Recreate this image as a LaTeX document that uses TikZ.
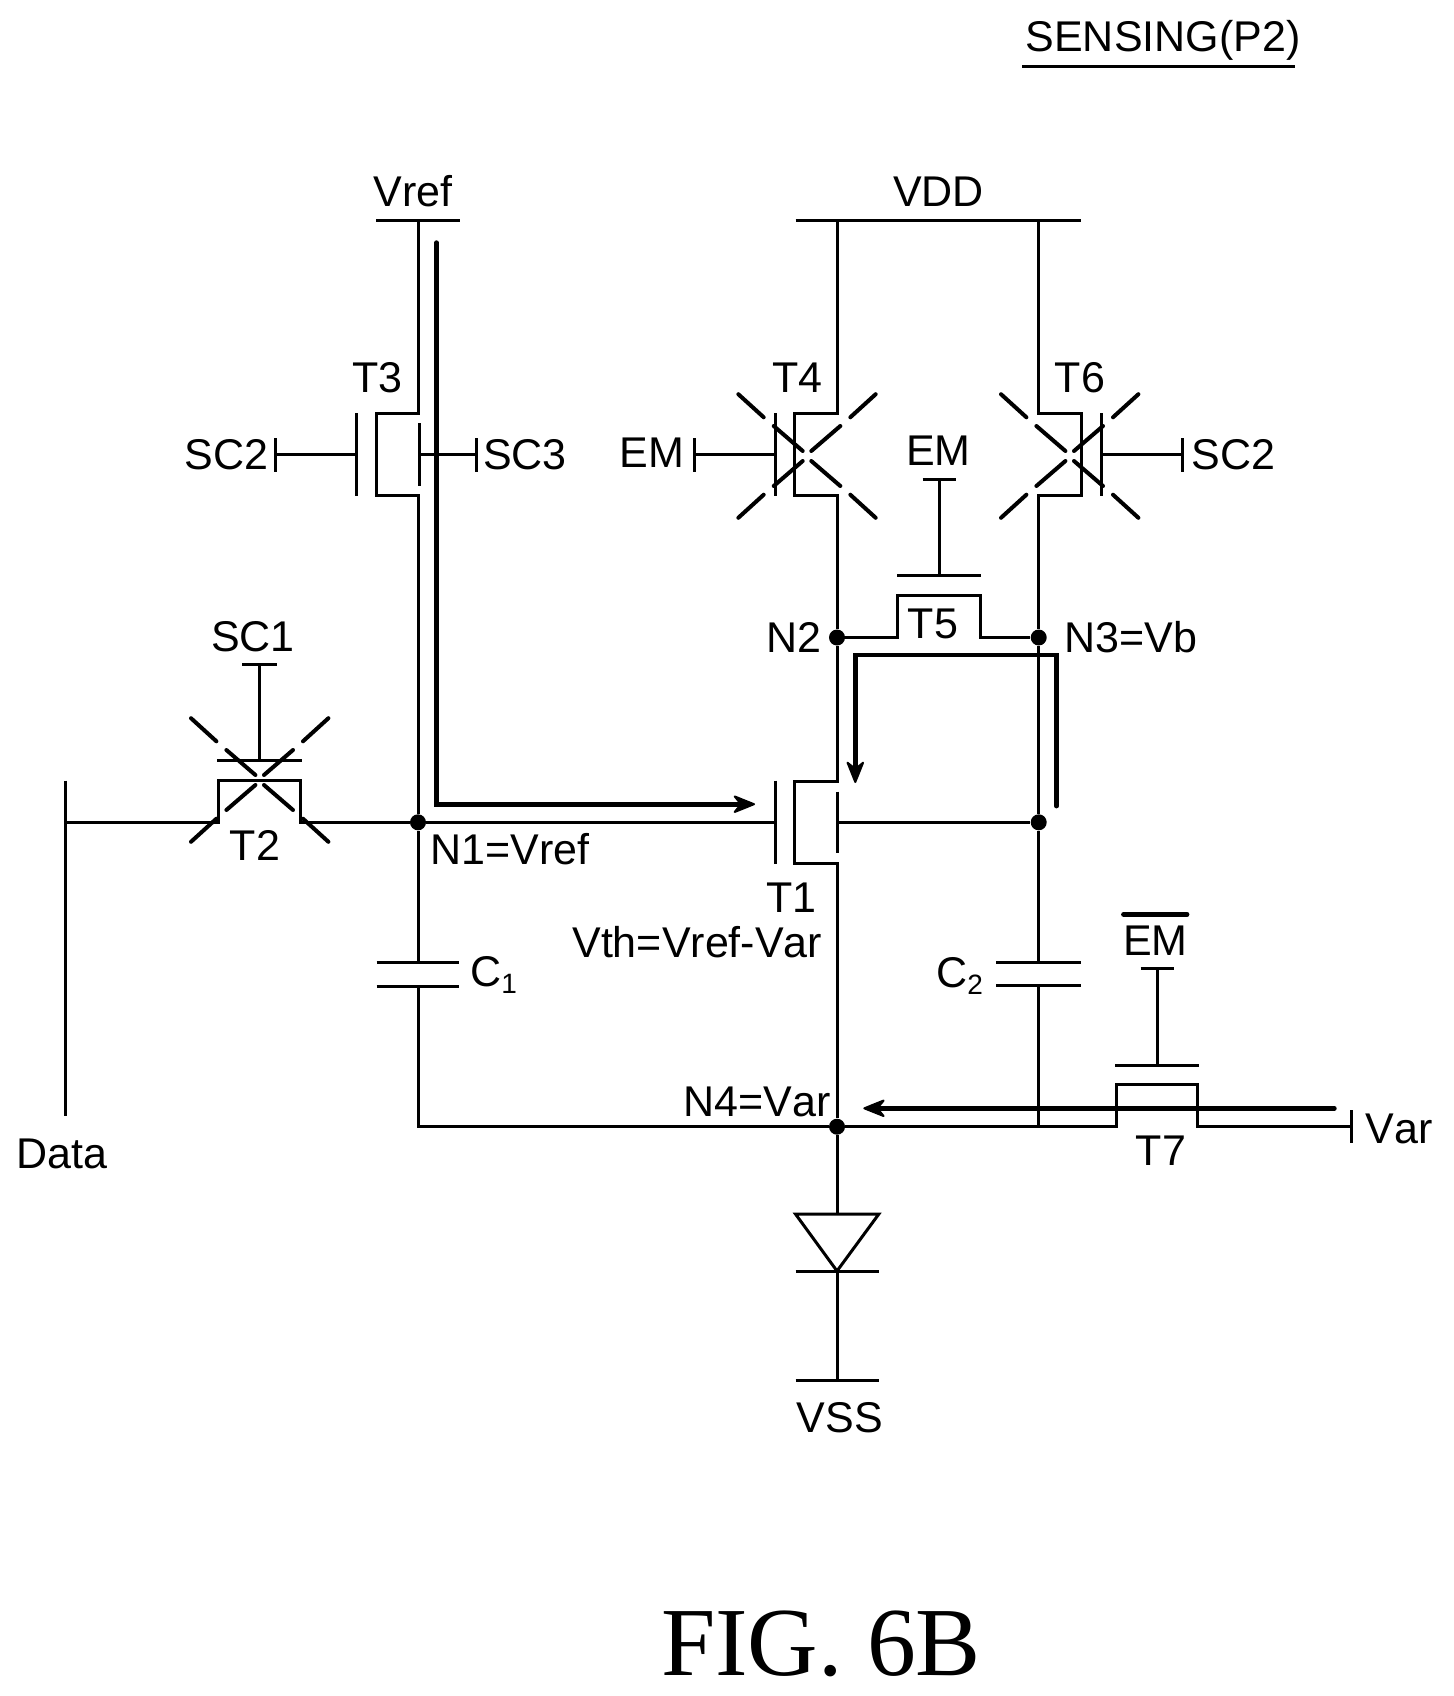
\documentclass[tikz,border=0pt]{standalone}
\usepackage{fontspec}
\setmainfont[Kerning=Off]{Liberation Sans}
\newfontfamily\figfont{Liberation Serif}
\usetikzlibrary{arrows.meta}
\tikzset{
  wire/.style={line width=1.5pt,line join=miter},
  thickpath/.style={line width=2.4pt,line cap=round},
  flow/.style={thickpath,-{Stealth[round,length=12.5pt,width=10pt,inset=4pt,line width=1pt]}},
  xmark/.style={line width=2pt,line cap=round},
  lbl/.style={inner sep=0pt,anchor=base,font=\fontsize{21.5}{24}\selectfont},
  lblw/.style={lbl,anchor=base west},
  lble/.style={lbl,anchor=base east},
  dot/.style={circle,fill=black,inner sep=0pt,minimum size=8pt},
}
\newcommand{\offmark}[2]{%
  \foreach \sx in {-1,1}{\foreach \sy in {-1,1}{%
    \draw[xmark] (#1+\sx*4.3,#2+\sy*5) -- (#1+\sx*33.3,#2+\sy*30);
    \draw[xmark] (#1+\sx*43.3,#2+\sy*38.7) -- (#1+\sx*68.7,#2+\sy*61.8);
  }}}
\newcommand{\subs}[1]{\raisebox{-3.6pt}{\fontsize{14}{15}\selectfont #1}}
\begin{document}
\begin{tikzpicture}[x=0.5pt,y=-0.5pt]
\useasboundingbox (0,0) rectangle (1453,1696);
% junctions
\node[dot] (n1) at (418,822.3) {};
\node[dot] (n2) at (837,637.5) {};
\node[dot] (n3) at (1038.7,637.5) {};
\node[dot] (n5) at (1038.7,822.3) {};
\node[dot] (n4) at (837,1126.7) {};
% rails
\coordinate (vrefL) at (376,220.7); \coordinate (vrefR) at (460,220.7); \coordinate (vrefT) at (418,220.7);
\coordinate (vddL) at (795.7,220.7); \coordinate (vddR) at (1080.7,220.7);
\coordinate (vddA) at (837,220.7); \coordinate (vddB) at (1038.7,220.7);
\draw[wire] (vrefL) -- (vrefR);
\draw[wire] (vddL) -- (vddR);
% T3
\coordinate (t3a) at (418,413.3); \coordinate (t3b) at (376,413.3); \coordinate (t3c) at (376,495.3); \coordinate (t3d) at (418,495.3);
\draw[wire] (vrefT) -- (t3a) -- (t3b) -- (t3c) -- (t3d) -- (n1);
\coordinate (t3gT) at (356.7,413.3); \coordinate (t3gB) at (356.7,496); \coordinate (t3g) at (356.7,454.7);
\draw[wire] (t3gT) -- (t3gB);
\coordinate (t3sT) at (419,423.3); \coordinate (t3sB) at (419,486); \coordinate (t3s) at (419,454.7);
\draw[wire] (t3sT) -- (t3sB);
\coordinate (sc2a) at (275.7,454.7); \coordinate (sc2aT) at (275.7,438); \coordinate (sc2aB) at (275.7,471.7);
\draw[wire] (sc2aT) -- (sc2aB);
\draw[wire] (sc2a) -- (t3g);
\coordinate (sc3a) at (476.7,454.7); \coordinate (sc3aT) at (476.7,438); \coordinate (sc3aB) at (476.7,471.7);
\draw[wire] (sc3aT) -- (sc3aB);
\draw[wire] (t3s) -- (sc3a);
% T4
\coordinate (t4a) at (837,413.3); \coordinate (t4b) at (794.3,413.3); \coordinate (t4c) at (794.3,495.3); \coordinate (t4d) at (837,495.3);
\draw[wire] (vddA) -- (t4a) -- (t4b) -- (t4c) -- (t4d) -- (n2);
\coordinate (t4gT) at (775.7,413.3); \coordinate (t4gB) at (775.7,496); \coordinate (t4g) at (775.7,454.7);
\draw[wire] (t4gT) -- (t4gB);
\coordinate (ema) at (694.3,454.7); \coordinate (emaT) at (694.3,438); \coordinate (emaB) at (694.3,471.7);
\draw[wire] (emaT) -- (emaB);
\draw[wire] (ema) -- (t4g);
\offmark{807}{456}
% T6
\coordinate (t6a) at (1038.7,413.3); \coordinate (t6b) at (1081.7,413.3); \coordinate (t6c) at (1081.7,495.3); \coordinate (t6d) at (1038.7,495.3);
\draw[wire] (vddB) -- (t6a) -- (t6b) -- (t6c) -- (t6d) -- (n3);
\coordinate (t6gT) at (1101,413.3); \coordinate (t6gB) at (1101,496); \coordinate (t6g) at (1101,454.7);
\draw[wire] (t6gT) -- (t6gB);
\coordinate (sc2b) at (1182.3,454.7); \coordinate (sc2bT) at (1182.3,438); \coordinate (sc2bB) at (1182.3,471.7);
\draw[wire] (sc2bT) -- (sc2bB);
\draw[wire] (t6g) -- (sc2b);
\offmark{1069.7}{456}
% T5
\coordinate (t5a) at (897.3,637.5); \coordinate (t5b) at (897.3,595.3); \coordinate (t5c) at (980,595.3); \coordinate (t5d) at (980,637.5);
\draw[wire] (n2) -- (t5a) -- (t5b) -- (t5c) -- (t5d) -- (n3);
\coordinate (t5gL) at (897.3,575.7); \coordinate (t5gR) at (981,575.7); \coordinate (t5g) at (939,575.7);
\draw[wire] (t5gL) -- (t5gR);
\coordinate (t5tL) at (922.7,479.3); \coordinate (t5tR) at (955.7,479.3); \coordinate (t5t) at (939,479.3);
\draw[wire] (t5tL) -- (t5tR);
\draw[wire] (t5t) -- (t5g);
% T1
\coordinate (t1a) at (837,781); \coordinate (t1b) at (794.3,781); \coordinate (t1c) at (794.3,863.7); \coordinate (t1d) at (837,863.7);
\draw[wire] (n2) -- (t1a) -- (t1b) -- (t1c) -- (t1d) -- (n4);
\coordinate (t1gT) at (775.7,780.7); \coordinate (t1gB) at (775.7,864.3); \coordinate (t1g) at (775.7,822.3);
\draw[wire] (t1gT) -- (t1gB);
\draw[wire] (n1) -- (t1g);
\coordinate (t1sT) at (837.7,791.7); \coordinate (t1sB) at (837.7,853.3); \coordinate (t1s) at (837.7,822.3);
\draw[wire] (t1sT) -- (t1sB);
\draw[wire] (t1s) -- (n5);
\draw[wire] (n3) -- (n5);
% T2 and data line
\coordinate (dataT) at (65,780.7); \coordinate (dataB) at (65,1116); \coordinate (dataJ) at (65,822.3);
\draw[wire] (dataT) -- (dataB);
\coordinate (t2a) at (218.3,822.3); \coordinate (t2b) at (218.3,780.3); \coordinate (t2c) at (300.3,780.3); \coordinate (t2d) at (300.3,822.3);
\draw[wire] (dataJ) -- (t2a) -- (t2b) -- (t2c) -- (t2d) -- (n1);
\coordinate (t2gL) at (217.3,760.7); \coordinate (t2gR) at (301.7,760.7); \coordinate (t2g) at (259.7,760.7);
\draw[wire] (t2gL) -- (t2gR);
\coordinate (t2tL) at (242.3,664.7); \coordinate (t2tR) at (276.7,664.7); \coordinate (t2t) at (259.7,664.7);
\draw[wire] (t2tL) -- (t2tR);
\draw[wire] (t2t) -- (t2g);
\offmark{259.7}{780}
% C1
\coordinate (c1aL) at (376.7,962); \coordinate (c1aR) at (459.3,962); \coordinate (c1a) at (418,962);
\coordinate (c1bL) at (376.7,986); \coordinate (c1bR) at (459.3,986); \coordinate (c1b) at (418,986);
\coordinate (c1e) at (418,1126.7);
\draw[wire] (n1) -- (c1a);
\draw[wire] (c1aL) -- (c1aR);
\draw[wire] (c1bL) -- (c1bR);
\draw[wire] (c1b) -- (c1e) -- (n4);
% C2
\coordinate (c2aL) at (996.3,962); \coordinate (c2aR) at (1080.7,962); \coordinate (c2a) at (1038.7,962);
\coordinate (c2bL) at (996.3,985.7); \coordinate (c2bR) at (1080.7,985.7); \coordinate (c2b) at (1038.7,985.7);
\coordinate (c2e) at (1038.7,1126.7);
\draw[wire] (n5) -- (c2a);
\draw[wire] (c2aL) -- (c2aR);
\draw[wire] (c2bL) -- (c2bR);
\draw[wire] (c2b) -- (c2e);
% T7
\coordinate (t7a) at (1116,1126.7); \coordinate (t7b) at (1116,1084.3); \coordinate (t7c) at (1197.7,1084.3); \coordinate (t7d) at (1197.7,1126.7);
\coordinate (varJ) at (1351.3,1126.7); \coordinate (varT) at (1351.3,1110); \coordinate (varB) at (1351.3,1143.3);
\draw[wire] (n4) -- (t7a) -- (t7b) -- (t7c) -- (t7d) -- (varJ);
\draw[wire] (varT) -- (varB);
\coordinate (t7gL) at (1115.3,1065.3); \coordinate (t7gR) at (1199,1065.3); \coordinate (t7g) at (1157,1065.3);
\draw[wire] (t7gL) -- (t7gR);
\coordinate (t7tL) at (1140.7,968.7); \coordinate (t7tR) at (1174,968.7); \coordinate (t7t) at (1157,968.7);
\draw[wire] (t7tL) -- (t7tR);
\draw[wire] (t7t) -- (t7g);
\coordinate (ovL) at (1123.5,914.3); \coordinate (ovR) at (1187,914.3);
\draw[line width=2.4pt,line cap=round] (ovL) -- (ovR);
% diode and VSS
\coordinate (dTop) at (837,1214.2); \coordinate (dL) at (795.6,1214.2); \coordinate (dR) at (878.7,1214.2); \coordinate (dTip) at (837,1271);
\coordinate (dBL) at (795.6,1271); \coordinate (dBR) at (878.7,1271);
\coordinate (vssC) at (837,1380.5); \coordinate (vssL) at (795.6,1380.5); \coordinate (vssR) at (878.7,1380.5);
\draw[wire] (n4) -- (dTop);
\draw[wire] (dL) -- (dR) -- (dTip) -- cycle;
\draw[wire] (dBL) -- (dBR);
\draw[wire] (dTip) -- (vssC);
\draw[wire] (vssL) -- (vssR);
% current paths
\coordinate (p1a) at (436.5,242.7); \coordinate (p1b) at (436.5,804.2); \coordinate (p1c) at (755,804.2);
\draw[flow] (p1a) -- (p1b) -- (p1c);
\coordinate (p2a) at (1056.3,806); \coordinate (p2b) at (1056.3,655); \coordinate (p2c) at (855.3,655); \coordinate (p2d) at (855.3,783);
\draw[flow] (p2a) -- (p2b) -- (p2c) -- (p2d);
\coordinate (p3a) at (1334.3,1108.3); \coordinate (p3b) at (863.3,1108.3);
\draw[flow] (p3a) -- (p3b);
% labels
\node[lbl] (title) at (1163,51.7) {SENSING(P2)};
\coordinate (ulL) at (1022,66.3); \coordinate (ulR) at (1295,66.3);
\draw[wire] (ulL) -- (ulR);
\node[lbl] (lvref) at (413,206) {Vref};
\node[lbl] (lvdd) at (938.5,206) {VDD};
\node[lbl] (lt3) at (377.8,392.7) {T3};
\node[lbl] (lt4) at (797.5,392.7) {T4};
\node[lbl] (lt6) at (1080,392.7) {T6};
\node[lbl] (lsc2a) at (226.5,469.5) {SC2};
\node[lbl] (lsc3) at (525,469.5) {SC3};
\node[lbl] (lem) at (652,467.5) {EM};
\node[lbl] (lem2) at (938.5,465.5) {EM};
\node[lbl] (lsc2b) at (1233.7,469.5) {SC2};
\node[lbl] (lt5) at (933,638.3) {T5};
\node[lble] (ln2) at (821.5,652.5) {N2};
\node[lblw] (ln3) at (1064.5,652.3) {N3=Vb};
\node[lbl] (lsc1) at (253,651) {SC1};
\node[lbl] (lt2) at (255,860) {T2};
\node[lblw] (ln1) at (430.5,864.3) {N1=Vref};
\node[lbl] (lt1) at (791.5,912.5) {T1};
\node[lble] (lvth) at (822.5,957.5) {Vth=Vref-Var};
\node[lblw] (lc1) at (470,986.7) {C\subs{1}};
\node[lblw] (lc2) at (936,987) {C\subs{2}};
\node[lbl] (lemb) at (1155.3,955) {EM};
\node[lble] (ln4) at (831,1116) {N4=Var};
\node[lbl] (lt7) at (1161,1165) {T7};
\node[lblw] (lvar) at (1365,1143.3) {Var};
\node[lbl] (ldata) at (62,1168.5) {Data};
\node[lbl] (lvss) at (840,1432) {VSS};
\node[inner sep=0pt,anchor=base,font=\fontsize{48.8}{52}\selectfont\figfont] (lfig) at (821,1675) {FIG. 6B};
\end{tikzpicture}
\end{document}
